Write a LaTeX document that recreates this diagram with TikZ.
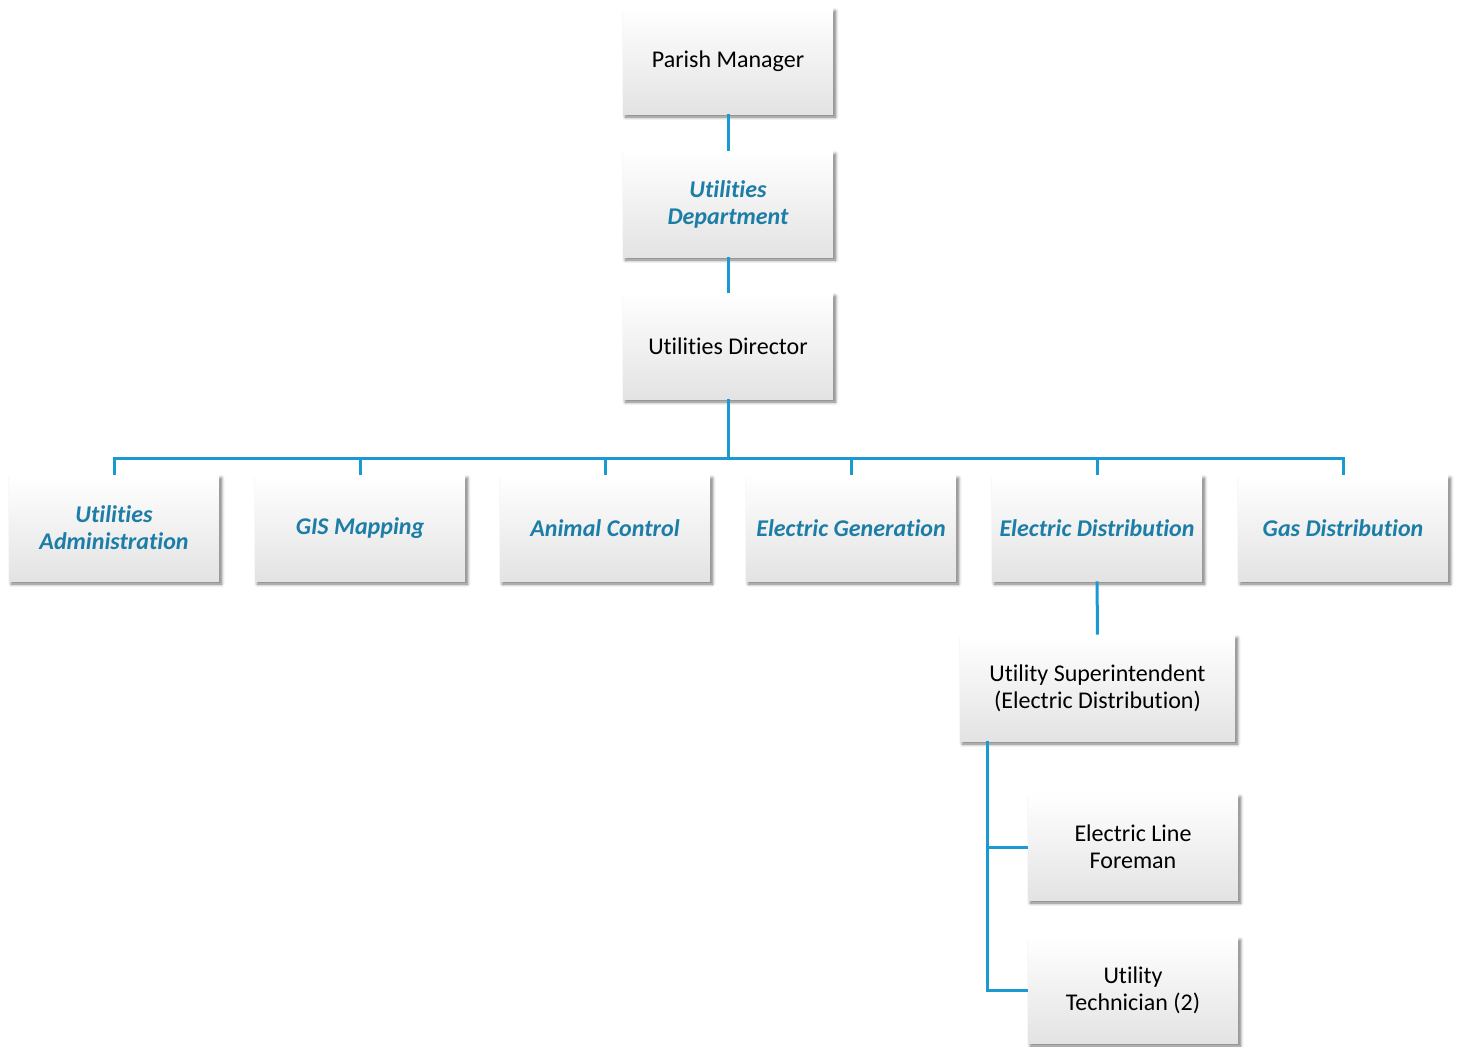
\documentclass[tikz,border=0pt]{standalone}
\usepackage{fontspec}
\setmainfont{Carlito}[Ligatures={NoCommon}]
\usetikzlibrary{shadows.blur,positioning}

\definecolor{lineblue}{HTML}{1A9AD0}
\definecolor{textblue}{HTML}{1C7DA6}

\tikzset{
  post/.style={minimum width=105pt,minimum height=53pt,inner sep=2pt,align=center,
    top color=white,middle color=white,bottom color=black!11,
    blur shadow={shadow xshift=1.2pt,shadow yshift=-1.5pt,shadow blur radius=1.6pt,
      shadow blur steps=6,shadow opacity=55},
    font=\fontsize{12}{13.5}\selectfont},
  unit/.style={post,text=textblue,font=\fontsize{12}{13.5}\selectfont\bfseries\itshape},
  link/.style={draw=lineblue,line width=1.5pt}
}

\begin{document}
\begin{tikzpicture}[x=0.5pt,y=-0.5pt]
\useasboundingbox (0,0) rectangle (1458,1046);
% top of the chart
\node[post] (mgr) at (728,61) {Parish Manager};
\node[unit] (dept) at (728,204) {Utilities\\Department};
\node[post] (dir) at (728,346) {Utilities Director};
% divisions
\node[unit] (admin) at (114,528) {Utilities\\Administration};
\node[unit] (gis) at (360,528) {GIS Mapping};
\node[unit] (animal) at (605,528) {Animal Control};
\node[unit] (gen) at (851,528) {Electric Generation};
\node[unit] (dist) at (1097,528) {Electric Distribution};
\node[unit] (gas) at (1343,528) {Gas Distribution};
% electric distribution staff
\node[post,minimum width=137.5pt] (super) at (1097.5,688) {Utility Superintendent\\(Electric Distribution)};
\node[post] (fore) at (1133,847) {Electric Line\\Foreman};
\node[post] (tech) at (1133,990) {Utility\\Technician (2)};
% connectors
\coordinate (bus) at (728,458);
\draw[link] (mgr) -- (dept);
\draw[link] (dept) -- (dir);
\draw[link] (dir) -- (bus);
\draw[link] (admin.north) -- (admin.north |- bus) -- (gas.north |- bus) -- (gas.north);
\foreach \n in {gis,animal,gen,dist}
  \draw[link] (\n.north) -- (\n.north |- bus);
\draw[link] (dist) -- (super);
\coordinate (trunk) at ([xshift=14pt]super.south west);
\draw[link] (trunk) |- (fore.west);
\draw[link] (trunk) |- (tech.west);
\end{tikzpicture}
\end{document}
